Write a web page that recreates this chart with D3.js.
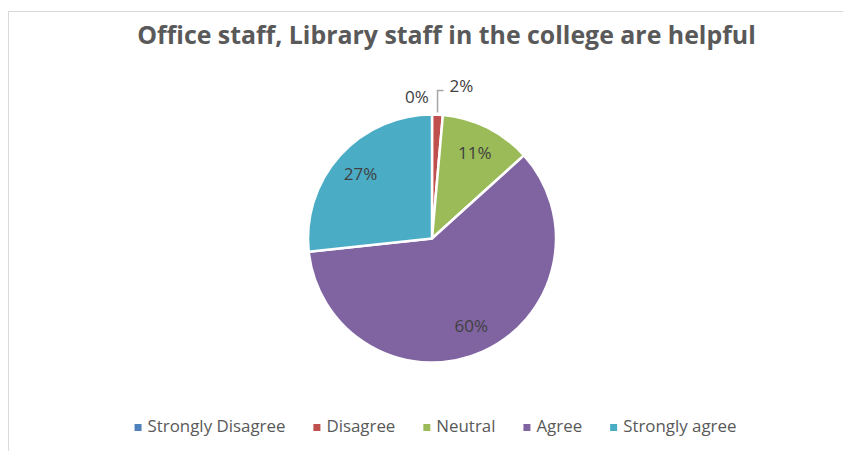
<!DOCTYPE html>
<html>
<head>
<meta charset="utf-8">
<script src="https://cdn.jsdelivr.net/npm/d3@7"></script>
<style>
  html, body { margin: 0; padding: 0; background: #ffffff; }
  svg { display: block; }
</style>
</head>
<body>
<svg id="chart" width="843" height="451"></svg>
<script>
// ---- data ----
const title = "Office staff, Library staff in the college are helpful";
const categories = ["Strongly Disagree", "Disagree", "Neutral", "Agree", "Strongly agree"];
const values = [0, 1.4, 11.9, 60.0, 26.7];
const labels = ["0%", "2%", "11%", "60%", "27%"];
const colors = ["#4F81BD", "#C0504D", "#9BBB59", "#8064A2", "#4BACC6"];

const W = 843, H = 451;
const svg = d3.select("#chart");
const FONT = "'Open Sans', 'Liberation Sans', sans-serif";

svg.append("rect").attr("width", W).attr("height", H).attr("fill", "#fff");
// chart border
svg.append("rect")
  .attr("x", 8.5).attr("y", 11.5).attr("width", 900).attr("height", 500)
  .attr("fill", "none").attr("stroke", "#d9d9d9").attr("stroke-width", 1);

function fitFont(sel, target, start) {
  sel.attr("font-size", start);
  const w = sel.node().getComputedTextLength();
  const fs = start * target / w;
  sel.attr("font-size", fs);
  return fs;
}

// title
const t = svg.append("text")
  .attr("x", 446.5).attr("y", 44)
  .attr("text-anchor", "middle")
  .attr("font-family", FONT).attr("font-weight", "bold")
  .attr("fill", "#595959")
  .text(title);
fitFont(t, 619, 24);

// pie
const cx = 432, cy = 238.5, r = 124;
const g = svg.append("g").attr("transform", `translate(${cx},${cy})`);
const pie = d3.pie().sort(null).value(d => d.v);
const data = categories.map((c, i) => ({ c, v: values[i], label: labels[i], color: colors[i] }));
const arcs = pie(data);
const arc = d3.arc().innerRadius(0).outerRadius(r);
g.selectAll("path.slice").data(arcs).enter().append("path")
  .attr("class", "slice")
  .attr("d", arc)
  .attr("fill", d => d.data.color)
  .attr("stroke", "#fff").attr("stroke-width", 2.5).attr("stroke-linejoin", "round");

const labelArc = d3.arc().innerRadius(96).outerRadius(96);
const LABEL_FS = 17;
arcs.forEach((d, i) => {
  const mid = (d.startAngle + d.endAngle) / 2;
  if (d.data.v >= 5) {
    const [x, y] = labelArc.centroid(d);
    g.append("text")
      .attr("x", x).attr("y", y).attr("dy", "0.35em")
      .attr("text-anchor", "middle")
      .attr("font-family", FONT).attr("font-size", LABEL_FS)
      .attr("fill", "#404040")
      .text(d.data.label);
  } else if (d.data.v > 0) {
    // leader line label
    const x0 = (r + 2) * Math.sin(mid);
    const y0 = -(r + 2) * Math.cos(mid);
    const yTop = -r - 24;
    g.append("polyline")
      .attr("points", `${x0},${y0} ${x0},${yTop} ${x0 + 6},${yTop}`)
      .attr("fill", "none").attr("stroke", "#a6a6a6").attr("stroke-width", 1.5);
    g.append("text")
      .attr("x", x0 + 12).attr("y", yTop - 4).attr("dy", "0.35em")
      .attr("text-anchor", "start")
      .attr("font-family", FONT).attr("font-size", LABEL_FS)
      .attr("fill", "#404040")
      .text(d.data.label);
  } else {
    const x0 = r * Math.sin(mid);
    g.append("text")
      .attr("x", x0 - 15).attr("y", -r - 17).attr("dy", "0.35em")
      .attr("text-anchor", "middle")
      .attr("font-family", FONT).attr("font-size", LABEL_FS)
      .attr("fill", "#404040")
      .text(d.data.label);
  }
});

// legend
const lg = svg.append("g");
const probe = lg.append("text").attr("font-family", FONT).text(categories[0]);
const legFs = fitFont(probe, 138, 16);
probe.remove();
const items = lg.selectAll("g.item").data(data).enter().append("g").attr("class", "item");
items.append("rect")
  .attr("width", 7).attr("height", 7).attr("y", -8)
  .attr("fill", d => d.color);
const txts = items.append("text")
  .attr("x", 13).attr("y", 0)
  .attr("font-family", FONT).attr("font-size", legFs)
  .attr("fill", "#595959")
  .text(d => d.c);
const widths = [];
txts.each(function () { widths.push(this.getComputedTextLength()); });
const gap = 28;
let total = 0;
widths.forEach((w, i) => { total += 13 + w + (i < widths.length - 1 ? gap : 0); });
let xPos = 435.5 - total / 2;
items.each(function (d, i) {
  d3.select(this).attr("transform", `translate(${xPos},432)`);
  xPos += 13 + widths[i] + gap;
});
</script>
</body>
</html>
